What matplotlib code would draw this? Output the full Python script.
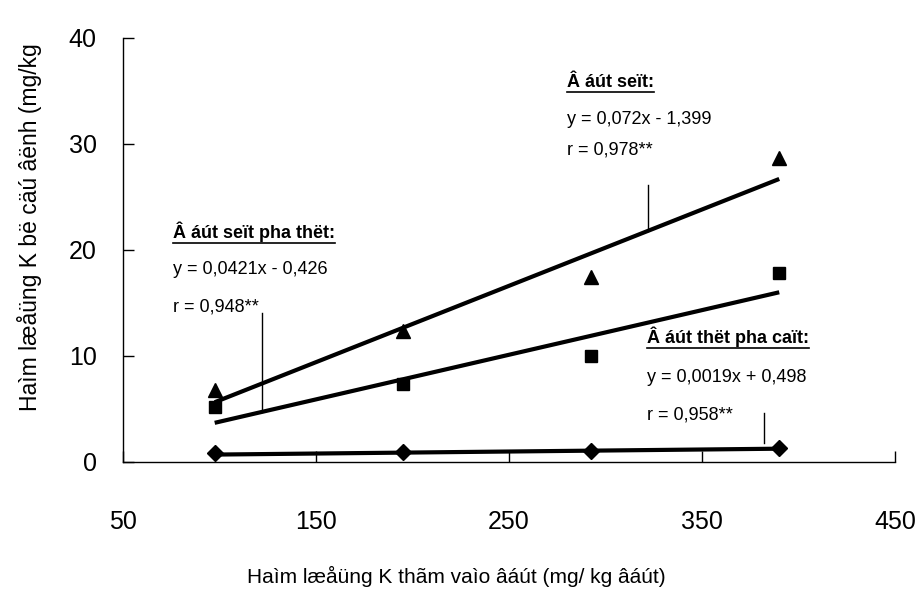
import numpy as np
import matplotlib.pyplot as plt
from matplotlib.lines import Line2D

plt.rcParams['font.family'] = ['Liberation Sans', 'DejaVu Sans']

# K added to soil (mg/kg soil)
k_added = [97.5, 195, 292.5, 390]

# fixed K for the three soils (mg/kg)
k_clay = [6.8, 12.3, 17.4, 28.7]        # triangles
k_clay_loam = [5.2, 7.3, 10.0, 17.8]    # squares
k_sandy_loam = [0.8, 0.9, 1.0, 1.35]    # diamonds

# trend line coefficients printed on the chart
fit_clay = (0.072, -1.399)
fit_clay_loam = (0.0421, -0.426)
fit_sandy_loam = (0.0019, 0.498)

labels = {
    'clay': ['Â áút seït:', 'y = 0,072x - 1,399', 'r = 0,978**'],
    'clay_loam': ['Â áút seït pha thët:', 'y = 0,0421x - 0,426', 'r = 0,948**'],
    'sandy_loam': ['Â áút thët pha caït:', 'y = 0,0019x + 0,498', 'r = 0,958**'],
}

xlabel = 'Haìm læåüng K thãm vaìo âáút (mg/ kg âáút)'
ylabel = 'Haìm læåüng K bë cäú âënh (mg/kg'

fig = plt.figure(figsize=(9.18, 5.99), dpi=100)
ax = fig.add_axes([0.134, 0.229, 0.841, 0.708])

x = np.array(k_added)
for ys, fit, mk, ms in [(k_clay, fit_clay, '^', 10),
                        (k_clay_loam, fit_clay_loam, 's', 8),
                        (k_sandy_loam, fit_sandy_loam, 'D', 8)]:
    ax.plot(x, ys, linestyle='none', marker=mk, markersize=ms, color='black', zorder=3)
    ax.plot(x, fit[0] * x + fit[1], color='black', lw=3, solid_capstyle='butt', zorder=2)

ax.set_xlim(50, 450)
ax.set_ylim(0, 40)
ax.set_xticks([50, 150, 250, 350, 450])
ax.set_yticks([0, 10, 20, 30, 40])
for s in ['top', 'right']:
    ax.spines[s].set_visible(False)
for s in ['left', 'bottom']:
    ax.spines[s].set_linewidth(1)
ax.tick_params(axis='both', direction='in', length=8, width=1, labelsize=18)
ax.tick_params(axis='y', pad=19)
ax.tick_params(axis='x', pad=35)

fig.text(0.497, 0.02, xlabel, ha='center', va='bottom', fontsize=15)
fig.text(0.032, 0.62, ylabel, ha='center', va='center', rotation=90, fontsize=16.5)

# regression labels: (key, left x, y of title/equation/r)
blocks = [('clay_loam', 76, [21.7, 18.1, 14.6]),
          ('clay', 280, [35.8, 32.3, 29.4]),
          ('sandy_loam', 321.5, [11.8, 8.0, 4.4])]
titles = []
for key, lx, ys in blocks:
    t = ax.text(lx, ys[0], labels[key][0], fontsize=13, fontweight='bold', va='center')
    titles.append(t)
    ax.text(lx, ys[1], labels[key][1], fontsize=13, va='center')
    ax.text(lx, ys[2], labels[key][2], fontsize=13, va='center')

# leader lines from the labels to the trend lines
ax.plot([322, 322], [26.1, fit_clay[0] * 322 + fit_clay[1]], color='black', lw=1)
ax.plot([122, 122], [14.0, fit_clay_loam[0] * 122 + fit_clay_loam[1]], color='black', lw=1)
ax.plot([382, 382], [4.6, 1.8], color='black', lw=1)

# underline the bold titles
fig.canvas.draw()
inv = fig.transFigure.inverted()
for t in titles:
    bb = t.get_window_extent()
    (x0, y0), (x1, _) = inv.transform([[bb.x0, bb.y0 - 1], [bb.x1, bb.y0]])
    fig.add_artist(Line2D([x0, x1], [y0, y0], color='black', lw=1.2))

fig.savefig('out.png', dpi=100)
